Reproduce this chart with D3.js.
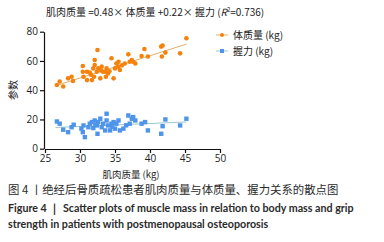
<!DOCTYPE html>
<html>
<head>
<meta charset="utf-8">
<script src="https://cdn.jsdelivr.net/npm/d3@7"></script>
<style>
  body { margin: 0; background: #fff; }
  svg { display: block; }
  .axis path, .axis line { stroke: #111; stroke-width: 1.2; }
  .axis text { font-family: "Open Sans", sans-serif; font-size: 10px; fill: #222; }
</style>
</head>
<body>
<svg class="chart"></svg>
<script>
// muscle mass (kg) vs body mass (kg)
var bodyX = [26.7, 27.1, 27.6, 28.3, 28.8, 29.0, 30.4, 30.4, 30.5, 31.0, 31.0, 31.4, 31.7, 31.9,
             32.0, 32.1, 32.1, 32.4, 32.5, 32.6, 32.9, 33.1, 33.3, 33.6, 33.7, 33.8, 34.0, 34.5,
             34.8, 35.0, 35.2, 35.5, 35.5, 35.7, 36.4, 36.9, 37.1, 37.4, 37.6, 37.9, 38.8, 39.2,
             39.7, 41.6, 41.7, 41.8, 42.2, 44.3, 45.2, 33.0, 34.2, 31.6, 36.0];
var bodyY = [43.6, 45.9, 42.5, 48.1, 49.2, 46.3, 56.5, 52.6, 49.2, 52.6, 46.9, 52.0, 46.9, 54.9,
             49.2, 60.6, 57.2, 52.6, 67.5, 54.9, 48.1, 56.1, 52.6, 52.6, 49.2, 54.9, 51.5, 61.8,
             48.1, 54.9, 58.3, 59.5, 56.1, 53.8, 58.3, 64.5, 59.5, 60.6, 59.5, 58.3, 63.4, 68.2,
             63.0, 69.8, 63.0, 70.5, 65.7, 65.2, 75.5, 53.5, 53.0, 50.5, 57.0];
// muscle mass (kg) vs grip strength (kg)
var gripX = [26.7, 27.1, 27.6, 28.3, 28.8, 29.1, 30.2, 30.4, 30.5, 30.7, 31.2, 31.4, 31.7, 31.9,
             32.1, 32.4, 32.5, 32.6, 32.9, 33.1, 33.3, 33.6, 33.8, 33.8, 34.0, 34.3, 34.5, 34.8,
             35.0, 35.2, 35.5, 35.7, 36.2, 36.9, 37.1, 37.4, 37.6, 37.9, 38.8, 39.3, 39.7, 41.6,
             41.8, 42.2, 44.3, 45.2, 32.2, 34.6, 36.6];
var gripY = [18.6, 17.1, 13.0, 11.3, 14.7, 16.4, 13.7, 11.3, 15.9, 7.9, 14.7, 17.1, 18.2, 14.1,
             19.3, 15.9, 10.2, 18.2, 20.5, 14.7, 17.1, 12.5, 19.3, 23.9, 15.9, 12.5, 17.1, 18.2,
             13.7, 17.1, 19.3, 12.5, 13.7, 22.7, 17.1, 20.5, 21.6, 19.3, 17.1, 18.2, 12.5, 10.2,
             15.4, 20.0, 15.9, 20.5, 16.5, 15.0, 16.0];
// fitted lines (end points)
var bodyFit = [[26.5, 43.0], [45.2, 71.5]];
var gripFit = [[26.5, 14.5], [45.2, 18.3]];

var xTicks = [25, 30, 35, 40, 45, 50];
var yTicks = [0, 20, 40, 60, 80];
var legendLabels = ["体质量 (kg)", "握力 (kg)"];

var width = 384, height = 242;
var orange = "#f5820d", blue = "#4d94ea";

var svg = d3.select(".chart")
    .attr("width", width)
    .attr("height", height);

var x = d3.scaleLinear().domain([25, 50]).range([45, 220]);
var y = d3.scaleLinear().domain([0, 80]).range([148.7, 31.7]);

// axes
svg.append("g")
    .attr("class", "axis")
    .attr("transform", "translate(0," + 149 + ")")
    .call(d3.axisBottom(x).tickValues(xTicks).tickSize(4).tickSizeOuter(0).tickPadding(2));

svg.append("g")
    .attr("class", "axis")
    .attr("transform", "translate(" + 44 + ",0)")
    .call(d3.axisLeft(y).tickValues(yTicks).tickSize(4).tickSizeOuter(0).tickPadding(2));

var line = d3.line().x(function(d) { return x(d[0]); }).y(function(d) { return y(d[1]); });

// fitted lines
svg.append("path").attr("d", line(bodyFit))
    .attr("fill", "none").attr("stroke", "#e3b06a").attr("stroke-width", 1);
svg.append("path").attr("d", line(gripFit))
    .attr("fill", "none").attr("stroke", "#9cc8cf").attr("stroke-width", 1);

// points
svg.append("g").selectAll("circle").data(d3.zip(bodyX, bodyY)).enter()
    .append("circle")
    .attr("cx", function(d) { return x(d[0]); })
    .attr("cy", function(d) { return y(d[1]); })
    .attr("r", 2.3)
    .attr("fill", orange);

svg.append("g").selectAll("rect").data(d3.zip(gripX, gripY)).enter()
    .append("rect")
    .attr("x", function(d) { return x(d[0]) - 2.2; })
    .attr("y", function(d) { return y(d[1]) - 2.2; })
    .attr("width", 4.4).attr("height", 4.4)
    .attr("fill", blue);

// legend
var legend = svg.append("g").attr("transform", "translate(216,35)");
[orange, blue].forEach(function(c, i) {
    var g = legend.append("g").attr("transform", "translate(0," + i * 16 + ")");
    g.append("line").attr("x1", 0).attr("x2", 12).attr("stroke", i ? "#9cc8cf" : "#e3b06a");
    if (i) g.append("rect").attr("x", 4).attr("y", -2).attr("width", 4).attr("height", 4).attr("fill", c);
    else g.append("circle").attr("cx", 6).attr("r", 2).attr("fill", c);
    g.append("text").attr("x", 17).attr("y", 4)
        .style("font-family", "'Noto Sans CJK SC', sans-serif").style("font-size", "10px").attr("fill", "#222")
        .text(legendLabels[i]);
});

// title
var title = svg.append("text").attr("x", 46).attr("y", 16)
    .style("font-family", "'Noto Sans CJK SC', sans-serif").style("font-size", "10px").attr("fill", "#222");
title.append("tspan").text("肌肉质量 =0.48× 体质量 +0.22× 握力 (");
title.append("tspan").style("font-style", "italic").text("R");
title.append("tspan").attr("dy", -4).style("font-size", "6px").text("2");
title.append("tspan").attr("dy", 4).text("=0.736)");

// axis labels
svg.append("text")
    .attr("transform", "translate(17,90) rotate(-90)")
    .attr("text-anchor", "middle")
    .style("font-family", "'Noto Sans CJK SC', sans-serif").style("font-size", "10px").attr("fill", "#222")
    .text("参数");

svg.append("text").attr("x", 131).attr("y", 178).attr("text-anchor", "middle")
    .style("font-family", "'Noto Sans CJK SC', sans-serif").style("font-size", "9.5px").attr("fill", "#222")
    .text("肌肉质量 (kg)");

// caption
svg.append("text").attr("x", 8).attr("y", 194)
    .style("font-family", "'Noto Sans CJK SC', sans-serif").style("font-size", "11.4px").attr("fill", "#2a2a2a")
    .text("图 4 丨绝经后骨质疏松患者肌肉质量与体质量、握力关系的散点图");

var cap = ["Figure 4 \uFF5C Scatter plots of muscle mass in relation to body mass and grip",
           "strength in patients with postmenopausal osteoporosis"];
cap.forEach(function(t, i) {
    svg.append("text").attr("x", 8).attr("y", 212 + i * 16)
        .style("font-family", "Lato, sans-serif").style("font-weight", "bold").style("font-size", "10.7px")
        .attr("fill", "#2a2a2a")
        .text(t);
});
</script>
</body>
</html>
